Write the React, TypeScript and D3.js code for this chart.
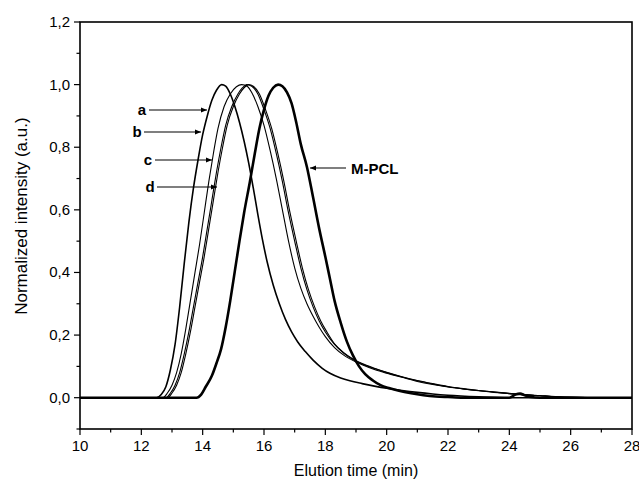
import React from "react";
import * as d3 from "d3";

type P = [number, number];

const curveA: P[] = [
  [10, 0], [12.5, 0], [12.65, 0.01], [12.8, 0.035], [12.95, 0.09], [13.1, 0.17], [13.25, 0.29], [13.4, 0.43],
  [13.55, 0.56], [13.7, 0.67], [13.85, 0.76], [14.0, 0.84], [14.15, 0.9], [14.3, 0.95], [14.45, 0.982],
  [14.62, 1.0], [14.75, 0.995], [14.9, 0.97], [15.05, 0.93], [15.2, 0.88], [15.35, 0.82],
  [15.5, 0.75], [15.65, 0.67], [15.8, 0.585], [15.95, 0.505], [16.1, 0.435], [16.3, 0.36], [16.5, 0.3],
  [16.7, 0.25], [16.9, 0.21], [17.1, 0.178], [17.34, 0.148], [17.6, 0.12], [17.9, 0.094], [18.15, 0.078],
  [18.5, 0.063], [18.8, 0.054], [19.2, 0.045], [19.6, 0.037], [20.0, 0.03], [20.5, 0.023], [21, 0.017],
  [21.5, 0.012], [22, 0.008], [23, 0.003], [24, 0], [28, 0],
];

const curveB: P[] = [
  [10, 0], [12.7, 0], [12.85, 0.015], [13.0, 0.04], [13.15, 0.08], [13.3, 0.14], [13.45, 0.22], [13.6, 0.31],
  [13.75, 0.4], [13.9, 0.49], [14.05, 0.59], [14.2, 0.69], [14.35, 0.78], [14.5, 0.86], [14.7, 0.93],
  [14.9, 0.97], [15.1, 0.993], [15.27, 1.0], [15.45, 0.995], [15.6, 0.975], [15.8, 0.93], [16.0, 0.87], [16.2, 0.79],
  [16.4, 0.7], [16.6, 0.6], [16.8, 0.5], [17.0, 0.415], [17.2, 0.35], [17.4, 0.3], [17.6, 0.26], [17.8, 0.225],
  [18.0, 0.195], [18.3, 0.16], [18.6, 0.136], [18.8, 0.124], [19.2, 0.105], [19.6, 0.09], [20, 0.078],
  [20.5, 0.065], [21, 0.052], [21.5, 0.042], [22, 0.034], [22.5, 0.028], [23, 0.023], [23.5, 0.018],
  [24, 0.014], [24.5, 0.01], [25, 0.007], [25.5, 0.004], [26, 0.002], [27, 0], [28, 0],
];

const curveC: P[] = [
  [10, 0], [12.8, 0], [12.95, 0.015], [13.1, 0.04], [13.25, 0.08], [13.4, 0.14], [13.55, 0.21], [13.7, 0.29],
  [13.85, 0.37], [14.0, 0.45], [14.15, 0.54], [14.3, 0.63], [14.45, 0.72], [14.6, 0.8], [14.75, 0.87],
  [14.95, 0.93], [15.15, 0.97], [15.3, 0.99], [15.43, 1.0], [15.6, 0.995], [15.8, 0.97], [16.0, 0.92],
  [16.2, 0.86], [16.4, 0.78], [16.6, 0.69], [16.8, 0.59], [17.0, 0.5], [17.2, 0.415], [17.4, 0.345],
  [17.6, 0.29], [17.8, 0.245], [18.0, 0.21], [18.3, 0.17], [18.6, 0.142], [18.9, 0.122], [19.2, 0.108],
  [19.6, 0.093], [20, 0.08], [20.5, 0.066], [21, 0.054], [21.5, 0.044], [22, 0.035], [22.5, 0.028],
  [23, 0.022], [23.5, 0.017], [24, 0.013], [24.5, 0.009], [25, 0.006], [25.5, 0.003], [26, 0.001], [27, 0], [28, 0],
];

const curveD: P[] = [
  [10, 0], [12.85, 0], [13.0, 0.015], [13.15, 0.04], [13.3, 0.08], [13.45, 0.14], [13.6, 0.21], [13.75, 0.29],
  [13.9, 0.37], [14.05, 0.45], [14.2, 0.54], [14.35, 0.63], [14.5, 0.72], [14.65, 0.8], [14.8, 0.87],
  [15.0, 0.93], [15.2, 0.97], [15.35, 0.99], [15.5, 1.0], [15.65, 0.995], [15.85, 0.97], [16.05, 0.92],
  [16.25, 0.86], [16.45, 0.78], [16.65, 0.69], [16.85, 0.59], [17.05, 0.5], [17.25, 0.415], [17.45, 0.345],
  [17.65, 0.29], [17.85, 0.245], [18.05, 0.21], [18.3, 0.172], [18.6, 0.144], [18.9, 0.124], [19.2, 0.109],
  [19.6, 0.094], [20, 0.081], [20.5, 0.067], [21, 0.055], [21.5, 0.045], [22, 0.036], [22.5, 0.029],
  [23, 0.023], [23.5, 0.018], [24, 0.013], [24.5, 0.009], [25, 0.006], [25.5, 0.003], [26, 0.001], [27, 0], [28, 0],
];

const curveMPCL: P[] = [
  [10, 0], [13.8, 0], [13.95, 0.01], [14.1, 0.035], [14.3, 0.07], [14.45, 0.11], [14.6, 0.155], [14.75, 0.225],
  [14.9, 0.31], [15.05, 0.405], [15.2, 0.5], [15.35, 0.59], [15.54, 0.69], [15.7, 0.78], [15.85, 0.86],
  [16.0, 0.92], [16.15, 0.965], [16.3, 0.99], [16.46, 1.0], [16.6, 0.995], [16.75, 0.975], [16.9, 0.94],
  [17.05, 0.88], [17.2, 0.81], [17.4, 0.737], [17.6, 0.64], [17.8, 0.54], [18.0, 0.45], [18.15, 0.38],
  [18.3, 0.31], [18.5, 0.24], [18.7, 0.18], [18.9, 0.135], [19.1, 0.1], [19.3, 0.075], [19.55, 0.055],
  [19.8, 0.04], [20.1, 0.03], [20.4, 0.022], [20.8, 0.014], [21.2, 0.008], [21.6, 0.004], [22, 0.002],
  [22.5, 0], [24.0, 0], [24.2, 0.01], [24.35, 0.013], [24.5, 0.008], [24.7, 0.002], [25, 0], [28, 0],
];

const xTicks = [10, 12, 14, 16, 18, 20, 22, 24, 26, 28];
const xMinor = [11, 13, 15, 17, 19, 21, 23, 25, 27];
const yTicks = [0, 0.2, 0.4, 0.6, 0.8, 1.0, 1.2];
const yMinor = [-0.1, 0.1, 0.3, 0.5, 0.7, 0.9, 1.1];
const yTickLabels = ["0,0", "0,2", "0,4", "0,6", "0,8", "1,0", "1,2"];

const seriesLabels = ["a", "b", "c", "d"];
const labelPos: { lx: number; ly: number; ax: number; ay: number }[] = [
  { lx: 142, ly: 110, ax: 207, ay: 110 },
  { lx: 137, ly: 132, ax: 201, ay: 132 },
  { lx: 148, ly: 160, ax: 212, ay: 160 },
  { lx: 150, ly: 187, ax: 217, ay: 187 },
];

const FONT = "'Liberation Sans', Arial, Helvetica, sans-serif";

export default function App() {
  const W = 639, H = 491;
  const x = d3.scaleLinear().domain([10, 28]).range([80, 632]);
  const y = d3.scaleLinear().domain([-0.1, 1.2]).range([429, 22]);
  const line = d3
    .line<P>()
    .x((d) => x(d[0]))
    .y((d) => y(d[1]))
    .curve(d3.curveMonotoneX);

  const thin = [curveB, curveC, curveD];

  return (
    <svg
      width={W}
      height={H}
      style={{ position: "absolute", left: 0, top: 0, background: "#fff" }}
      fontFamily={FONT}
    >
      <defs>
        <marker id="ah" viewBox="0 0 10 10" refX="10" refY="5" markerWidth="7" markerHeight="6" orient="auto" markerUnits="userSpaceOnUse">
          <path d="M0,1 L10,5 L0,9 Z" fill="#000" />
        </marker>
      </defs>
      <rect x={0} y={0} width={W} height={H} fill="#fff" />
      <g fill="none" stroke="#000" strokeLinejoin="round">
        {thin.map((c, i) => (
          <path key={i} d={line(c) || ""} strokeWidth={1.1} />
        ))}
        <path d={line(curveA) || ""} strokeWidth={1.6} />
        <path d={line(curveMPCL) || ""} strokeWidth={2.6} />
      </g>
      <rect x={x(10)} y={y(1.2)} width={x(28) - x(10)} height={y(-0.1) - y(1.2)} fill="none" stroke="#000" strokeWidth={1.6} />
      <g stroke="#000" strokeWidth={1.2}>
        {xTicks.map((t) => (
          <line key={t} x1={x(t)} x2={x(t)} y1={y(-0.1)} y2={y(-0.1) + 6} />
        ))}
        {xMinor.map((t) => (
          <line key={t} x1={x(t)} x2={x(t)} y1={y(-0.1)} y2={y(-0.1) + 3.5} />
        ))}
        {yTicks.map((t) => (
          <line key={t} x1={x(10) - 6} x2={x(10)} y1={y(t)} y2={y(t)} />
        ))}
        {yMinor.map((t) => (
          <line key={t} x1={x(10) - 3.5} x2={x(10)} y1={y(t)} y2={y(t)} />
        ))}
      </g>
      <g fontSize={15} fill="#000">
        {xTicks.map((t) => (
          <text key={t} x={x(t)} y={y(-0.1) + 22} textAnchor="middle">
            {t}
          </text>
        ))}
        {yTicks.map((t, i) => (
          <text key={t} x={x(10) - 10} y={y(t) + 5} textAnchor="end">
            {yTickLabels[i]}
          </text>
        ))}
      </g>
      <text x={356} y={476} fontSize={16} textAnchor="middle" fill="#000">
        Elution time (min)
      </text>
      <text
        transform={`translate(27,${y(0.58)}) rotate(-90)`}
        fontSize={17}
        textAnchor="middle"
        fill="#000"
      >
        Normalized intensity (a.u.)
      </text>
      <g fontSize={15} fontWeight="bold" fill="#000">
        {seriesLabels.map((s, i) => (
          <g key={s}>
            <text x={labelPos[i].lx} y={labelPos[i].ly + 5} textAnchor="middle">
              {s}
            </text>
            <line
              x1={labelPos[i].lx + 7}
              x2={labelPos[i].ax}
              y1={labelPos[i].ay}
              y2={labelPos[i].ay}
              stroke="#000"
              strokeWidth={1.1}
              markerEnd="url(#ah)"
            />
          </g>
        ))}
        <line x1={346} x2={310} y1={168} y2={168} stroke="#000" strokeWidth={1.1} markerEnd="url(#ah)" />
        <text x={351} y={174}>
          M-PCL
        </text>
      </g>
    </svg>
  );
}
